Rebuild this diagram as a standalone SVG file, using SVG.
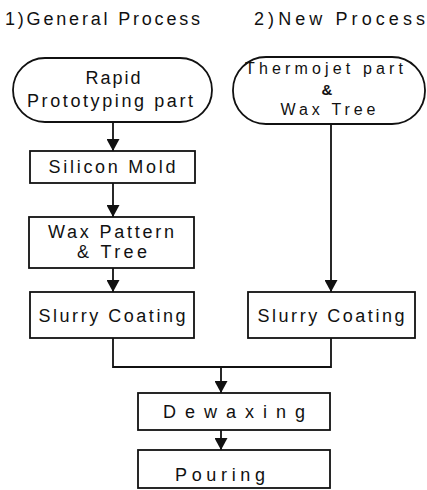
<svg xmlns="http://www.w3.org/2000/svg" width="427" height="490" viewBox="0 0 427 490">
<defs>
<style>
.t{font-family:"Liberation Sans",Arial,sans-serif;font-size:18px;fill:#111;text-anchor:middle}
.h{font-family:"Liberation Sans",Arial,sans-serif;font-size:18px;fill:#111}
.b{fill:#fff;stroke:#111;stroke-width:1.8}
.c{fill:none;stroke:#111;stroke-width:1.8}
</style>
<marker id="ah" viewBox="0 0 12 13" refX="12" refY="6.5" markerWidth="12" markerHeight="13" markerUnits="userSpaceOnUse" orient="auto">
<path d="M0,0 L12,6.5 L0,13 Z" fill="#111"/>
</marker>
</defs>
<rect width="427" height="490" fill="#fff"/>
<text class="h" x="5" y="25" textLength="195" lengthAdjust="spacing">1)General Process</text>
<text class="h" x="254" y="25" textLength="171" lengthAdjust="spacing">2)New Process</text>
<g id="connectors">
<line class="c" x1="113" y1="122" x2="113" y2="151" marker-end="url(#ah)"/>
<line class="c" x1="113" y1="183" x2="113" y2="217" marker-end="url(#ah)"/>
<line class="c" x1="113" y1="268" x2="113" y2="292" marker-end="url(#ah)"/>
<line class="c" x1="331" y1="124" x2="331" y2="292" marker-end="url(#ah)"/>
<polyline class="c" points="113,338 113,367 331,367 331,338"/>
<line class="c" x1="221" y1="367" x2="221" y2="393" marker-end="url(#ah)"/>
<line class="c" x1="221" y1="430" x2="221" y2="450" marker-end="url(#ah)"/>
</g>
<g id="rapid">
<rect class="b" x="13" y="58" width="199" height="64" rx="32" ry="32"/>
<text class="t" x="113" y="84" textLength="55" lengthAdjust="spacing">Rapid</text>
<text class="t" x="110" y="107" textLength="166" lengthAdjust="spacing">Prototyping part</text>
</g>
<g id="thermojet">
<rect class="b" x="233" y="57" width="192" height="67" rx="33" ry="33"/>
<text class="t" x="324" y="74" style="font-size:16px" textLength="158" lengthAdjust="spacing">Thermojet part</text>
<text class="t" x="327" y="95" style="font-size:15px;font-weight:bold">&amp;</text>
<text class="t" x="328" y="115" style="font-size:16px" textLength="95" lengthAdjust="spacing">Wax Tree</text>
</g>
<g id="silicon">
<rect class="b" x="30" y="151" width="165" height="32"/>
<text class="t" x="112" y="173" textLength="127" lengthAdjust="spacing">Silicon Mold</text>
</g>
<g id="waxpattern">
<rect class="b" x="29" y="217" width="165" height="51"/>
<text class="t" x="111" y="238" textLength="126" lengthAdjust="spacing">Wax Pattern</text>
<text class="t" x="112" y="258" textLength="70" lengthAdjust="spacing">&amp; Tree</text>
</g>
<g id="slurry1">
<rect class="b" x="30" y="292" width="164" height="46"/>
<text class="t" x="112" y="322" textLength="147" lengthAdjust="spacing">Slurry Coating</text>
</g>
<g id="slurry2">
<rect class="b" x="248" y="292" width="167" height="46"/>
<text class="t" x="331" y="322" textLength="147" lengthAdjust="spacing">Slurry Coating</text>
</g>
<g id="dewaxing">
<rect class="b" x="138" y="393" width="192" height="37"/>
<text class="t" x="234" y="418" textLength="142" lengthAdjust="spacing">Dewaxing</text>
</g>
<g id="pouring">
<rect class="b" x="138" y="450" width="192" height="38"/>
<text class="t" x="220" y="481" textLength="90" lengthAdjust="spacing">Pouring</text>
</g>
</svg>
